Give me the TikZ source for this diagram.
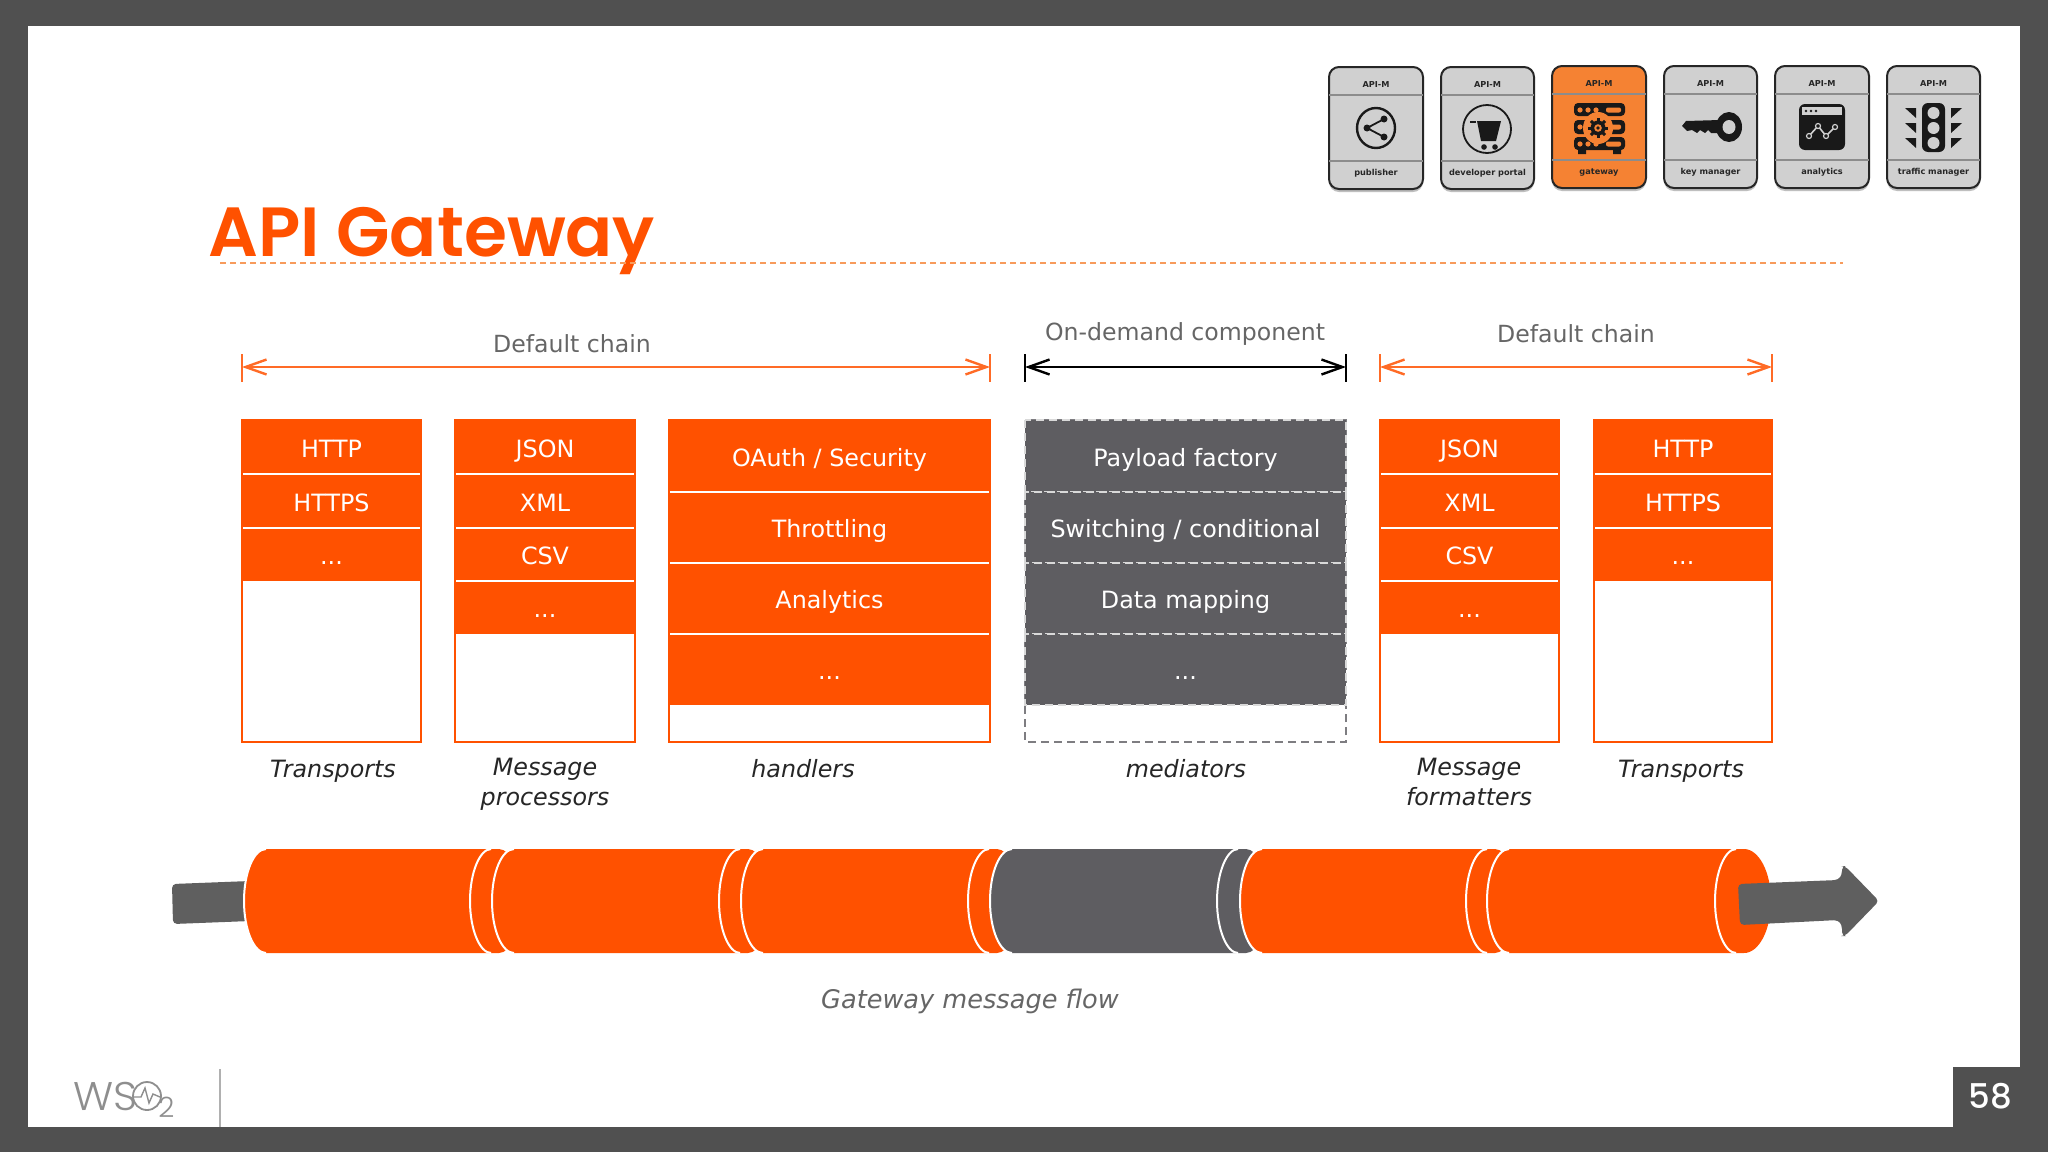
\documentclass[tikz,border=0pt]{standalone}
\usepackage{fontspec}
\setmainfont{DejaVu Sans}
\newfontfamily\titlef{Poppins SemiBold}
\newfontfamily\lightf{Poppins Light}
\newfontfamily\numf{Poppins Medium}
\usetikzlibrary{arrows.meta}
\definecolor{wso}{HTML}{FF5100}
\definecolor{slategray}{HTML}{5E5D61}
\definecolor{framegray}{HTML}{505050}
\definecolor{labelgray}{HTML}{666666}
\definecolor{cardgray}{HTML}{D0D0D0}
\definecolor{cardorange}{HTML}{F58233}
\definecolor{stubgray}{HTML}{5F5F5F}
\definecolor{logogray}{HTML}{8E8E8E}
\tikzset{
  rowtext/.style={text=white,font=\fontsize{11.9}{13}\selectfont,text height=9pt,text depth=2.4pt,yshift=-1.8pt},
  caption/.style={text=black!85,font=\fontsize{11.9}{15}\selectfont\itshape,align=center},
  head/.style={text=labelgray,font=\fontsize{11.8}{13}\selectfont,yshift=-.6pt},
  span/.style={line width=1.2pt,{Straight Barb[length=10.5pt,width=7.5pt]}-{Straight Barb[length=10.5pt,width=7.5pt]}},
  tick/.style={line width=1.1pt},
  colbox/.style={draw=wso,line width=1.1pt,fill=white},
  sep/.style={draw=white,line width=.8pt},
  cardbox/.style={draw=black!85,line width=1pt,rounded corners=5pt},
  cardtext/.style={font=\fontsize{4.1}{5}\selectfont\bfseries,text=black!85},
  ink/.style={fill=black!90},
}
\newcommand{\orow}[6]{\path[fill=wso] (#1,#3) rectangle node[rowtext] (#5) {#6} (#2,#4);}
\newcommand{\grow}[6]{\path[fill=slategray] (#1,#3) rectangle node[rowtext] (#5) {#6} (#2,#4);
  \draw[white!85!black,line width=.9pt,dash pattern=on 4pt off 2.5pt] (#1,#3) rectangle (#2,#4);}
\newcommand{\seg}[5]{%
  \fill[#2] (#1+22,849) .. controls (#1+10,849) and (#1,872) .. (#1,901) .. controls (#1,930) and (#1+10,953) .. (#1+22,953)
     -- (#3+29,953) .. controls (#3+29+#4*.55,953) and (#3+29+#4,930) .. (#3+29+#4,901)
     .. controls (#3+29+#4,872) and (#3+29+#4*.55,849) .. (#3+29,849) -- cycle;
  \draw[white,line width=1pt] (#1+22,849) .. controls (#1+10,849) and (#1,872) .. (#1,901) .. controls (#1,930) and (#1+10,953) .. (#1+22,953);
  \draw[white,line width=1pt] (#3+21,849) .. controls (#3+10,849) and (#3,872) .. (#3,901) .. controls (#3,930) and (#3+10,953) .. (#3+21,953);
}
\newcommand{\card}[7]{% x1 x2 ytop color name top bottom
  \fill[black!25,rounded corners=5pt] (#1,#3+4) rectangle (#2,#3+125);
  \draw[cardbox,fill=#4] (#1,#3) rectangle (#2,#3+122);
  \draw[black!45,line width=.6pt] (#1,#3+28) -- (#2,#3+28) (#1,#3+94) -- (#2,#3+94);
  \node[cardtext] (#5a) at ({(#1+#2)/2},#3+18) {API-M};
  \node[cardtext] (#5b) at ({(#1+#2)/2},#3+106) {#6};
}
\begin{document}
\begin{tikzpicture}[x=.5pt,y=-.5pt]
\useasboundingbox (0,0) rectangle (2048,1152);
\fill[framegray] (0,0) rectangle (2048,1152);
\fill[white] (28,26) rectangle (2020,1127);
\fill[framegray] (1953,1067) rectangle (2020,1127);
\node[text=white,font=\numf\fontsize{17}{18}\selectfont] (pageno) at (1990,1096) {58};

% title
\node[anchor=base west,inner sep=0pt,text=wso,font=\titlef\fontsize{34.8}{40}\selectfont] (title) at (208,256) {API Gateway};
\coordinate (ruleL) at (220,263); \coordinate (ruleR) at (1843,263);
\draw[draw=cardorange!80,line width=.7pt,dash pattern=on 3pt off 2pt] (ruleL) -- (ruleR);

% cards
\card{1329}{1423}{67}{cardgray}{c1}{publisher}{}
\card{1441}{1534}{67}{cardgray}{c2}{developer portal}{}
\card{1552}{1646}{66}{cardorange}{c3}{gateway}{}
\card{1664}{1757}{66}{cardgray}{c4}{key manager}{}
\card{1775}{1869}{66}{cardgray}{c5}{analytics}{}
\card{1887}{1980}{66}{cardgray}{c6}{traffic manager}{}
% publisher icon
\draw[black!90,line width=1.2pt] (1376,128) circle[x radius=19,y radius=20];
\draw[black!90,line width=.9pt] (1384,119) -- (1367,128) -- (1384,137);
\fill[ink] (1384,119) circle(3.5) (1367,128) circle(3.5) (1384,137) circle(3.5);
% developer portal icon
\draw[black!90,line width=.9pt] (1487,129) circle[x radius=24,y radius=24];
\fill[ink] (1470,121) rectangle (1476,123);
\fill[ink] (1477,121) -- (1501,121) -- (1496,141) -- (1481,141) -- cycle;
\fill[ink] (1484,147) circle(2.8) (1495,147) circle(2.8);
% gateway icon
\fill[ink,rounded corners=2pt] (1574,103) rectangle (1625,116);
\fill[ink,rounded corners=2pt] (1574,120) rectangle (1625,134);
\fill[ink,rounded corners=2pt] (1574,137) rectangle (1625,150);
\fill[ink] (1578,150) rectangle (1586,154) (1613,150) rectangle (1621,154);
\foreach \yy in {110,127,144}{
  \fill[cardorange] (1580,\yy) circle(2.6) (1588,\yy) circle(2.6) (1596,\yy) circle(2.6);
  \fill[cardorange,rounded corners=1pt] (1606,\yy-2.5) rectangle (1621,\yy+2.5);
}
\fill[cardorange] (1598,128) circle[x radius=15,y radius=16];
\foreach \a in {0,45,...,315}{\fill[ink,rotate around={\a:(1598,128)}] (1596.5,118) rectangle (1599.5,122);}
\fill[ink] (1598,128) circle(7.5);
\fill[cardorange] (1598,128) circle(3.8);
\fill[ink] (1598,128) circle(1.8);
% key icon
\fill[ink] (1682,126) -- (1686,121) -- (1720,120) -- (1720,133) -- (1711,133) -- (1708,130) -- (1705,133) -- (1700,130) -- (1697,133) -- (1692,130) -- (1687,131) -- cycle;
\fill[ink] (1729,127) circle[x radius=13,y radius=15];
\fill[cardgray] (1729,127) circle[x radius=6.5,y radius=7];
% analytics icon
\fill[ink,rounded corners=3pt] (1799,104) rectangle (1845,150);
\fill[cardgray] (1802,107) rectangle (1842,115);
\fill[ink] (1806,111) circle(1.4) (1811,111) circle(1.4) (1816,111) circle(1.4);
\draw[cardgray,line width=.8pt] (1809,136) -- (1818,126) -- (1826,136) -- (1835,127);
\foreach \p in {(1809,136),(1818,126),(1826,136),(1835,127)}{\filldraw[fill=black!90,draw=cardgray,line width=.6pt] \p circle(2.5);}
% traffic icon
\fill[ink,rounded corners=3pt] (1922,103) rectangle (1945,152);
\foreach \yy in {113,128,143}{
  \fill[cardgray] (1933.5,\yy) circle(6);
  \fill[ink] (1905,\yy-5) -- (1916,\yy-5) -- (1916,\yy+5) -- cycle;
  \fill[ink] (1962,\yy-5) -- (1951,\yy-5) -- (1951,\yy+5) -- cycle;
}

% spans
\node[head] (h1) at (572,342) {Default chain};
\node[head] (h2) at (1185,333) {On-demand component};
\node[head] (h3) at (1576,332) {Default chain};
\foreach \nm/\xa/\xb/\cc in {a/242/990/wso!85!white,b/1025/1346/black,c/1380/1772/wso!85!white}{
  \coordinate (\nm L) at (\xa,367); \coordinate (\nm R) at (\xb,367);
  \coordinate (\nm La) at (\xa,354); \coordinate (\nm Lb) at (\xa,382);
  \coordinate (\nm Ra) at (\xb,354); \coordinate (\nm Rb) at (\xb,382);
  \draw[span,draw=\cc] (\nm L) -- (\nm R);
  \draw[tick,draw=\cc] (\nm La) -- (\nm Lb);
  \draw[tick,draw=\cc] (\nm Ra) -- (\nm Rb);
}

% column 1
\draw[colbox] (242,420) rectangle (421,742);
\orow{242}{421}{420}{474}{a1}{HTTP}
\orow{242}{421}{474}{528}{a2}{HTTPS}
\orow{242}{421}{528}{581}{a3}{...}
\draw[sep] (243,474) -- (420,474) (243,528) -- (420,528);
% column 2
\draw[colbox] (455,420) rectangle (635,742);
\orow{455}{635}{420}{474}{b1}{JSON}
\orow{455}{635}{474}{528}{b2}{XML}
\orow{455}{635}{528}{581}{b3}{CSV}
\orow{455}{635}{581}{634}{b4}{...}
\draw[sep] (456,474) -- (634,474) (456,528) -- (634,528) (456,581) -- (634,581);
% column 3
\draw[colbox] (669,420) rectangle (990,742);
\orow{669}{990}{420}{492}{d1}{OAuth / Security}
\orow{669}{990}{492}{563}{d2}{Throttling}
\orow{669}{990}{563}{634}{d3}{Analytics}
\orow{669}{990}{634}{705}{d4}{...}
\draw[sep] (670,492) -- (989,492) (670,563) -- (989,563) (670,634) -- (989,634);
% column 4
\draw[slategray!80,line width=1.1pt,dash pattern=on 4pt off 2.5pt] (1025,420) rectangle (1346,742);
\grow{1025}{1346}{420}{492}{e1}{Payload factory}
\grow{1025}{1346}{492}{563}{e2}{Switching / conditional}
\grow{1025}{1346}{563}{634}{e3}{Data mapping}
\grow{1025}{1346}{634}{705}{e4}{...}
% column 5
\draw[colbox] (1380,420) rectangle (1559,742);
\orow{1380}{1559}{420}{474}{f1}{JSON}
\orow{1380}{1559}{474}{528}{f2}{XML}
\orow{1380}{1559}{528}{581}{f3}{CSV}
\orow{1380}{1559}{581}{634}{f4}{...}
\draw[sep] (1381,474) -- (1558,474) (1381,528) -- (1558,528) (1381,581) -- (1558,581);
% column 6
\draw[colbox] (1594,420) rectangle (1772,742);
\orow{1594}{1772}{420}{474}{g1}{HTTP}
\orow{1594}{1772}{474}{528}{g2}{HTTPS}
\orow{1594}{1772}{528}{581}{g3}{...}
\draw[sep] (1595,474) -- (1771,474) (1595,528) -- (1771,528);

% captions
\tikzset{capline/.style={text height=9pt,text depth=2.4pt}}
\node[caption,capline] (k1) at (333,771) {Transports};
\node[caption,anchor=north] (k2) at (545,751) {Message\\processors};
\node[caption,capline] (k3) at (803,771) {handlers};
\node[caption,capline] (k4) at (1186,771) {mediators};
\node[caption,anchor=north] (k5) at (1469,751) {Message\\formatters};
\node[caption,capline] (k6) at (1681,771) {Transports};

% pipe
\fill[stubgray,rounded corners=2pt] (172,884) -- (250,881) -- (250,921) -- (173,924) -- cycle;
\seg{244}{wso}{470}{21}{}
\seg{492}{wso}{719}{21}{}
\seg{741}{wso}{968}{21}{}
\seg{990}{slategray}{1217}{21}{}
\seg{1240}{wso}{1466}{21}{}
\seg{1487}{wso}{1715}{27}{}
\fill[stubgray,rounded corners=2pt] (1738,884) -- (1838,880) -- (1842,875) -- (1842,866) -- (1845,866) -- (1879,901) -- (1845,936) -- (1842,936) -- (1842,925) -- (1838,920) -- (1740,925) -- cycle;
\node[text=labelgray,font=\fontsize{12.8}{15}\selectfont\itshape] (flow) at (970,1001) {Gateway message flow};

% logo
\draw[logogray!70,line width=.8pt] (220,1069) -- (220,1127);
\node[anchor=base west,inner sep=0pt,text=logogray,font=\lightf\fontsize{20}{22}\selectfont] (logoa) at (73,1110) {\scalebox{1.05}[1]{WS}};
\draw[logogray,line width=.9pt] (147,1096) circle(14);
\draw[logogray,line width=.7pt] (134,1097) -- (141,1097) -- (145,1088) -- (149,1103) -- (153,1094) -- (160,1097);
\node[anchor=base west,inner sep=0pt,text=logogray,font=\lightf\fontsize{14}{15}\selectfont] (logob) at (158,1117) {2};
\end{tikzpicture}
\end{document}
